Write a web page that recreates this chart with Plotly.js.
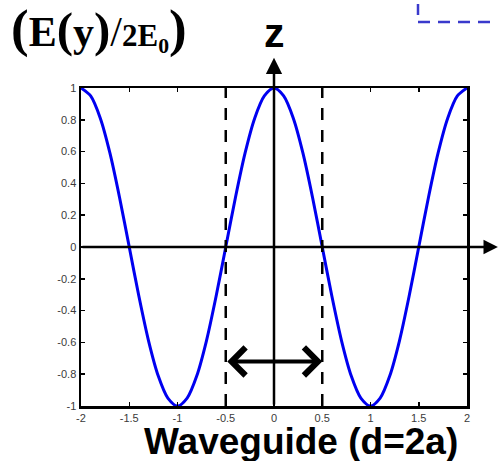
<!DOCTYPE html>
<html>
<head>
<meta charset="utf-8">
<script src="https://cdn.plot.ly/plotly-3.0.1.min.js"></script>
<style>
  html, body { margin: 0; padding: 0; background: #ffffff; }
  #chart { width: 498px; height: 461px; }
</style>
</head>
<body>
<div id="chart"></div>
<script>
// Transverse position across the guide and the normalised field E(y)/2E0
const positionY = [
  -2.0, -1.9, -1.8, -1.7, -1.6, -1.5, -1.4, -1.3, -1.2, -1.1,
  -1.0, -0.9, -0.8, -0.7, -0.6, -0.5, -0.4, -0.3, -0.2, -0.1,
   0.0,  0.1,  0.2,  0.3,  0.4,  0.5,  0.6,  0.7,  0.8,  0.9,
   1.0,  1.1,  1.2,  1.3,  1.4,  1.5,  1.6,  1.7,  1.8,  1.9,
   2.0
];
const fieldRatio = [
   1.00,  0.95,  0.81,  0.59,  0.31,  0.00, -0.31, -0.59, -0.81, -0.95,
  -1.00, -0.95, -0.81, -0.59, -0.31,  0.00,  0.31,  0.59,  0.81,  0.95,
   1.00,  0.95,  0.81,  0.59,  0.31,  0.00, -0.31, -0.59, -0.81, -0.95,
  -1.00, -0.95, -0.81, -0.59, -0.31,  0.00,  0.31,  0.59,  0.81,  0.95,
   1.00
];

// Tick values and labels
const xTickVals = [-2, -1.5, -1, -0.5, 0, 0.5, 1, 1.5, 2];
const xTickText = ['-2', '-1.5', '-1', '-0.5', '0', '0.5', '1', '1.5', '2'];
const yTickVals = [-1, -0.8, -0.6, -0.4, -0.2, 0, 0.2, 0.4, 0.6, 0.8, 1];
const yTickText = ['-1', '-0.8', '-0.6', '-0.4', '-0.2', '0', '0.2', '0.4', '0.6', '0.8', '1'];

// Guide walls (d = 2a) and the level of the width marker
const wallPositions = [-0.5, 0.5];
const widthMarkerLevel = -0.72;

// Page geometry: plot frame edges in pixels, and pixel -> paper helpers
const W = 498, H = 461;
const L = 81, R = 467, T = 88, B = 406;
const px = x => (x - L) / (R - L);
const py = y => (B - y) / (B - T);

const fieldTrace = {
  x: positionY,
  y: fieldRatio,
  type: 'scatter',
  mode: 'lines',
  line: { color: '#0000f0', width: 3, shape: 'spline', smoothing: 0.8 },
  hoverinfo: 'skip'
};

const tickFont = { family: 'Liberation Sans, Arial, sans-serif', size: 11, color: '#3a3a3a' };

const axisCommon = {
  showgrid: false,
  zeroline: false,
  showline: true,
  mirror: 'ticks',
  linecolor: '#000000',
  linewidth: 2.5,
  ticks: 'inside',
  ticklen: 4,
  tickwidth: 1.5,
  tickcolor: '#000000',
  tickfont: tickFont,
  tickmode: 'array',
  fixedrange: true
};

// Dashed walls at the guide edges
const wallShapes = wallPositions.map(xw => ({
  type: 'line', xref: 'x', yref: 'y',
  x0: xw, x1: xw, y0: -1, y1: 1,
  line: { color: '#000000', width: 2.5, dash: '12px,10px' }
}));

// Corner of a dashed blue frame in the upper right
const frameShapes = [
  { type: 'line', xref: 'paper', yref: 'paper',
    x0: px(418), x1: px(418), y0: py(15), y1: py(4),
    line: { color: '#3a3acc', width: 2.5 } },
  { type: 'line', xref: 'paper', yref: 'paper',
    x0: px(418), x1: px(505), y0: py(22), y1: py(22),
    line: { color: '#3a3acc', width: 2.5, dash: '12px,8px' } }
];

const annotations = [
  // horizontal axis with arrow
  { xref: 'x', yref: 'y', axref: 'x', ayref: 'y',
    x: 2.32, y: 0, ax: -2, ay: 0, text: '',
    showarrow: true, arrowhead: 2, arrowsize: 1.15, arrowwidth: 2.5, arrowcolor: '#000000' },
  // vertical z axis with arrow
  { xref: 'x', yref: 'y', axref: 'x', ayref: 'y',
    x: 0, y: 1.19, ax: 0, ay: -1, text: '',
    showarrow: true, arrowhead: 2, arrowsize: 1.3, arrowwidth: 2.5, arrowcolor: '#000000' },
  // double-headed width marker between the walls
  { xref: 'x', yref: 'y', axref: 'x', ayref: 'y',
    x: wallPositions[1], y: widthMarkerLevel, ax: wallPositions[0], ay: widthMarkerLevel, text: '',
    showarrow: true, arrowside: 'end+start', arrowhead: 4, startarrowhead: 4,
    arrowsize: 1.35, startarrowsize: 1.35, arrowwidth: 4, arrowcolor: '#000000' },
  // z label
  { xref: 'paper', yref: 'paper', x: px(274), y: py(33), xanchor: 'center', yanchor: 'middle',
    text: 'z', showarrow: false,
    font: { family: 'Liberation Sans, Arial, sans-serif', size: 41, weight: 'bold', color: '#000000' } },
  // bottom label
  { xref: 'paper', yref: 'paper', x: px(301), y: py(441), xanchor: 'center', yanchor: 'middle',
    text: 'Waveguide (d=2a)', showarrow: false,
    font: { family: 'Liberation Sans, Arial, sans-serif', size: 37, weight: 'bold', color: '#000000' } },
  // field ratio label
  { xref: 'paper', yref: 'paper', x: px(9), y: py(29), xanchor: 'left', yanchor: 'middle',
    text: '<span style="font-size:53px">(</span>E<span style="font-size:49px">(</span>y<span style="font-size:49px">)</span><span style="font-weight:normal">/</span><span style="font-size:31px">2E<sub>0</sub></span><span style="font-size:53px">)</span>',
    showarrow: false,
    font: { family: 'Liberation Serif, Times New Roman, serif', size: 42, weight: 'bold', color: '#000000' } }
];

const layout = {
  width: W,
  height: H,
  margin: { l: L, r: W - R, t: T, b: H - B, pad: 0 },
  paper_bgcolor: '#ffffff',
  plot_bgcolor: '#ffffff',
  showlegend: false,
  xaxis: Object.assign({}, axisCommon, {
    range: [-2, 2], tickvals: xTickVals, ticktext: xTickText
  }),
  yaxis: Object.assign({}, axisCommon, {
    range: [-1, 1], tickvals: yTickVals, ticktext: yTickText
  }),
  shapes: wallShapes.concat(frameShapes),
  annotations: annotations
};

Plotly.newPlot('chart', [fieldTrace], layout, { displayModeBar: false, staticPlot: true });
</script>
</body>
</html>
